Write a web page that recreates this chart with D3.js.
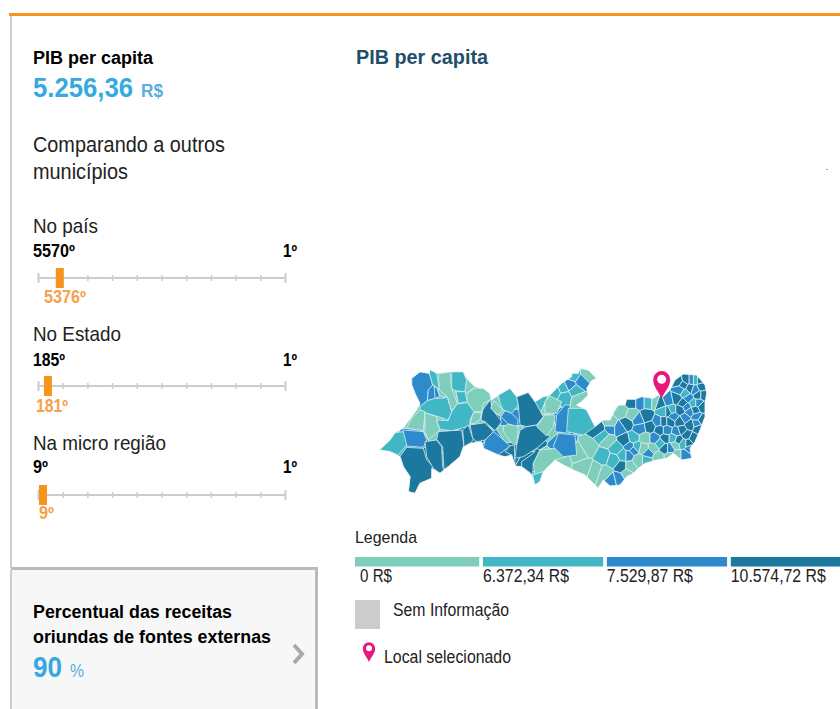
<!DOCTYPE html>
<html>
<head>
<meta charset="utf-8">
<script src="https://cdn.jsdelivr.net/npm/d3@7"></script>
<style>
	html, body { margin: 0; padding: 0; background: #fff; }
	svg { display: block; }
	text { font-family: "Liberation Sans", Arial, sans-serif; }
</style>
</head>
<body>
<div id="chart"></div>
<script>
var legendLabels = [ "0 R$", "6.372,34 R$", "7.529,87 R$", "10.574,72 R$" ];
var legendWidths = [ 32, 86, 86, 95 ];
var classColors = [ "#7fcdbb", "#41b6c4", "#2e8bcb", "#1c789e" ];

var gaugeNames = [ "No país", "No Estado", "Na micro região" ];
var gaugeNameWidths = [ 65, 88, 133 ];
var gaugeWorst = [ "5570º", "185º", "9º" ];
var gaugeWorstWidths = [ 42, 32, 15 ];
var gaugeBest = [ "1º", "1º", "1º" ];
var gaugeRank = [ "5376º", "181º", "9º" ];
var gaugeRankWidths = [ 42, 32, 15 ];
// where the marker sits along the track
var gaugeShare = [ 0.072, 0.024, 0.004 ];

// map digitised on a 3x grid of the picture: [x, y]
var outlineWest = [
	[28,270],[60,240],[75,218],[100,205],[110,190],[140,150],[150,130],[135,100],[125,75],[125,55],[150,35],[178,40],
	[180,28],[200,40],[240,35],[280,35],[295,60],[315,80],[340,85],[360,100],[365,120],[385,105],[420,85],[440,110],
	[475,97],[495,125],[520,110]
];
var outlineEast = [
	[60,105],[80,85],[95,70],[110,60],[125,50],[125,40],[145,40],[150,25],[175,30],[200,55],[185,62],[170,85],[175,105],
	[155,125],[140,135],[170,150],[185,180],[195,200],[220,180],[240,180],[255,150],[265,135],[285,135],[290,118],[315,118],
	[335,110],[370,115],[385,105],[400,110],[420,90],[435,60],[460,42],[500,45],[525,75],[530,100],[525,130],[525,170],
	[510,210],[495,245],[480,265],[485,295],[455,300],[430,280],[410,295],[380,300],[345,310],[325,325],[310,340],[290,350],
	[270,375],[240,378],[220,360],[205,385],[180,360],[165,345],[130,330],[100,315],[75,300],[40,335],[30,365],[15,375]
];
var outlineSouth = [
	[485,345],[455,320],[435,318],[425,285],[405,290],[385,285],[340,265],[335,245],[300,250],[280,262],[270,290],[235,320],
	[210,340],[185,325],[185,355],[150,370],[135,400],[115,395],[120,350],[100,320],[90,290],[60,275]
];

// small municipalities of the east: [x, y, legend class], cells grown around these
var municipiosWest = [
	[150,85,2],[190,60,1],[183,100,2],[225,85,0],[265,65,1],[305,70,0],[272,110,1],[205,135,1],[325,120,0],[250,115,0],
	[140,185,0],[185,200,0],[260,175,1],[320,175,0],[365,170,3],[380,145,0],[415,125,1],[420,175,2],[480,140,3],[420,220,0],
	[135,232,2],[70,260,1],[135,320,3],[195,290,3],[240,265,3],[290,230,3],[330,215,3],[375,250,2],[420,275,3],[480,240,3],
	[480,310,3],[520,310,0],[498,360,1]
];
var municipiosEast = [
	[130,48,1],[175,45,0],[155,65,2],[120,75,2],[100,85,1],[75,95,1],[105,110,1],[135,92,1],[145,118,0],[30,122,1],
	[60,135,0],[50,195,0],[95,175,2],[150,180,1],[105,255,2],[40,310,0],[90,300,0],[150,280,0],[175,265,0],[195,330,0],
	[165,320,0],[220,225,1],[220,290,1],[240,205,2],[208,208,3],[235,240,0],[245,360,2],[225,340,0],[265,355,2],[290,340,0],
	[275,320,3],[300,320,0],[250,300,1],[260,265,1],[285,240,3],[290,190,3],[268,205,2],[240,190,0],[275,155,0],[305,165,0],
	[305,125,3],[330,125,2],[355,125,1],[375,125,0],[390,130,3],[350,170,3],[385,185,2],[330,205,2],[360,200,3],[345,235,0],
	[310,235,1],[310,270,2],[340,265,0],[370,265,0],[405,265,3],[405,235,3],[325,300,0],[295,285,2],[350,300,1],[385,290,0],
	[435,255,0],[440,215,2],[420,185,3],[400,155,1],[425,150,1],[450,150,3],[415,120,2],[440,115,3],[450,90,2],[445,65,3],
	[470,60,3],[495,60,1],[515,80,3],[480,85,3],[505,105,3],[475,115,2],[490,130,1],[515,140,3],[480,155,2],[500,170,2],
	[465,175,2],[515,180,3],[450,185,3],[480,195,3],[505,205,3],[470,225,3],[490,235,3],[460,250,1],[480,265,2],[465,285,2],
	[440,285,0],[420,290,0],[410,210,2],
	[460,75,3],[485,60,2],[510,60,3],[465,100,1],[495,90,2],[520,105,3],[460,130,3],[505,130,2],[470,140,2],[430,170,2],
	[495,150,3],[455,210,3],[500,190,2],[430,235,1],[420,265,2],[445,240,3],[475,250,3],[390,210,3],[375,235,2],[390,250,1],
	[325,180,2],[320,260,1],[280,285,1],[300,260,2],[355,280,2],[400,185,3],[415,155,3]
];

// large municipalities, traced: legend class, then the boundary
var municipiosGrandes = [
	[2, [[125,55],[150,35],[178,40],[188,75],[175,90],[172,122],[150,140],[135,100],[125,75]]],
	[1, [[178,40],[180,28],[200,40],[208,90],[192,75],[188,75]]],
	[2, [[188,75],[192,75],[195,115],[172,122],[175,90]]],
	[0, [[205,42],[240,35],[245,85],[262,130],[245,155],[232,110],[208,90]]],
	[1, [[245,35],[280,35],[290,60],[285,95],[255,92],[245,85]]],
	[0, [[280,35],[295,60],[315,80],[290,100],[285,95],[290,60]]],
	[1, [[258,95],[285,95],[292,125],[265,130]]],
	[1, [[172,122],[195,115],[215,115],[232,112],[245,155],[235,180],[205,170],[170,160],[150,150],[150,140]]],
	[0, [[315,85],[340,85],[360,100],[362,118],[340,130],[335,155],[310,155],[292,125],[290,100]]],
	[0, [[150,150],[165,155],[160,212],[110,205],[125,175]]],
	[0, [[165,158],[200,170],[200,185],[210,210],[175,240],[165,215]]],
	[1, [[262,132],[292,128],[312,155],[300,180],[300,195],[275,205],[245,212],[210,208],[200,180],[235,182],[245,155]]],
	[0, [[310,158],[335,158],[330,180],[312,190],[300,190]]],
	[3, [[362,118],[365,145],[395,185],[375,212],[345,185],[333,180],[338,150]]],
	[0, [[372,122],[398,150],[385,165],[362,145]]],
	[1, [[385,105],[420,85],[440,110],[445,135],[425,160],[400,150],[390,130]]],
	[2, [[405,152],[425,160],[445,180],[440,200],[415,192],[393,170]]],
	[3, [[440,110],[475,97],[495,125],[520,170],[500,195],[470,200],[450,195],[445,135]]],
	[0, [[400,200],[415,192],[445,200],[440,255],[425,250],[400,215]]],
	[2, [[100,210],[160,215],[170,240],[160,262],[110,258],[100,240]]],
	[1, [[28,270],[60,240],[75,218],[100,215],[110,255],[85,285],[60,275]]],
	[3, [[110,262],[160,265],[170,300],[190,320],[185,355],[150,370],[135,400],[115,395],[120,350],[100,320],[90,290]]],
	[3, [[165,245],[200,240],[215,260],[218,320],[222,330],[210,340],[190,325],[170,290]]],
	[3, [[205,215],[245,212],[275,210],[282,255],[270,290],[235,320],[222,328],[218,260],[200,238]]],
	[3, [[278,210],[295,195],[310,240],[300,250],[282,260]]],
	[3, [[300,195],[345,188],[370,215],[345,240],[320,245],[308,235]]],
	[2, [[370,215],[395,235],[420,258],[385,285],[340,265],[345,240]]],
	[3, [[420,258],[433,255],[435,318],[425,285],[405,275]]],
	[3, [[450,210],[470,200],[500,195],[540,230],[500,265],[460,290],[435,295],[440,255]]],
	[3, [[500,265],[510,270],[490,310],[488,345],[470,330],[455,320],[455,305],[490,280]]],
	[0, [[510,270],[560,265],[590,290],[555,300],[520,335],[495,345],[490,310]]],
	[1, [[488,345],[520,335],[510,365],[495,375]]],
	[2, [[565,220],[615,225],[620,285],[580,290],[550,260]]],
	[0, [[525,165],[555,165],[550,200],[530,228],[500,200]]],
	[0, [[540,108],[575,125],[560,160],[525,160],[525,125]]],
	[2, [[585,135],[600,135],[600,220],[555,215],[560,165]]],
	[1, [[595,145],[650,145],[675,200],[640,225],[590,215]]]
];
var selectedPlace = [ 395, 115 ];

var eastShift = 480;

var svg = d3.select("#chart").append("svg").attr("width", 840).attr("height", 709);

var mapX = d3.scaleLinear().domain([0, 1080]).range([370, 730]);
var mapY = d3.scaleLinear().domain([0, 420]).range([360, 500]);
var color = d3.scaleOrdinal().domain([0, 1, 2, 3]).range(classColors);

function addText(g, str, x, y, size, fill, bold, width, anchor) {
	var t = g.append("text")
		.attr("x", x)
		.attr("y", y)
		.attr("font-size", size)
		.attr("fill", fill)
		.attr("font-weight", bold ? "bold" : "normal")
		.attr("text-anchor", anchor || "start")
		.text(str);
	if(width) t.attr("textLength", width).attr("lengthAdjust", "spacingAndGlyphs");
	return t;
}

function pinPath(size) {
	// tip at 0,0, head above it
	var r = size * 0.47, c = size * 1.05;
	return "M0,0 C" + (-r * 0.4) + "," + (-c * 0.4) + " " + (-r) + "," + (-c * 0.6) + " " + (-r) + "," + (-c)
		+ " A" + r + "," + r + " 0 1 1 " + r + "," + (-c)
		+ " C" + r + "," + (-c * 0.6) + " " + (r * 0.4) + "," + (-c * 0.4) + " 0,0 Z";
}

// frame
svg.append("rect").attr("x", 10).attr("y", 16).attr("width", 2).attr("height", 552).attr("fill", "#ccc");
svg.append("rect").attr("x", 9).attr("y", 13).attr("width", 831).attr("height", 3).attr("fill", "#f7941e");

var left = svg.append("g");
addText(left, "PIB per capita", 33, 64, 18, "#000", true, 120);
addText(left, "5.256,36", 33, 97, 27.5, "#36a9e1", true, 100);
addText(left, "R$", 141, 97, 19, "#5aaede", true, 22);
addText(left, "Comparando a outros", 33, 152, 21.5, "#222", false, 192);
addText(left, "municípios", 33, 179, 21.5, "#222", false, 95);

// rank gauges
var trackX = d3.scaleLinear().domain([0, 1]).range([38, 285]);
var gaugeTop = [ 233, 341, 450 ];
var gaugeTrack = [ 278, 386, 495 ];
var gaugeWorstY = [ 257, 366, 473 ];
var gaugeRankX = [ 44, 36, 39 ];
var gaugeRankY = [ 303, 412, 519 ];

gaugeNames.forEach(function(name, i) {
	var g = svg.append("g");
	addText(g, name, 33, gaugeTop[i], 21, "#222", false, gaugeNameWidths[i]);
	addText(g, gaugeWorst[i], 33, gaugeWorstY[i], 18, "#000", true, gaugeWorstWidths[i]);
	addText(g, gaugeBest[i], 283, gaugeWorstY[i], 18, "#000", true, 14);

	var axis = g.append("g")
		.attr("transform", "translate(0," + gaugeTrack[i] + ")")
		.call(d3.axisBottom(trackX).ticks(10).tickSize(6).tickFormat(""));
	axis.select(".domain").attr("stroke", "#ccc").attr("stroke-width", 2).attr("d", "M38,0H285");
	axis.selectAll(".tick line")
		.attr("stroke", "#ccc")
		.attr("stroke-width", function(d, j) { return (j == 0 || j == 10) ? 2 : 1.5; })
		.attr("y1", function(d, j) { return (j == 0 || j == 10) ? -5 : -3; })
		.attr("y2", function(d, j) { return (j == 0 || j == 10) ? 5 : 3; });

	g.append("rect")
		.attr("x", trackX(gaugeShare[i]))
		.attr("y", gaugeTrack[i] - 10)
		.attr("width", 8)
		.attr("height", 20)
		.attr("fill", "#f7941e");
	addText(g, gaugeRank[i], gaugeRankX[i], gaugeRankY[i], 18, "#f7a04b", true, gaugeRankWidths[i]);
});

// next indicator card
var card = svg.append("g");
card.append("rect").attr("x", 10).attr("y", 568).attr("width", 307).attr("height", 141)
	.attr("fill", "#f7f7f7");
card.append("path").attr("d", "M11,568.5H316.5V709").attr("fill", "none").attr("stroke", "#bbb").attr("stroke-width", 3);
card.append("rect").attr("x", 10).attr("y", 570).attr("width", 2).attr("height", 139).attr("fill", "#ccc");
addText(card, "Percentual das receitas", 33, 618, 18, "#000", true, 199);
addText(card, "oriundas de fontes externas", 33, 643, 18, "#000", true, 238);
addText(card, "90", 33, 677, 29, "#36a9e1", true, 29);
addText(card, "%", 70, 677, 18, "#5aaede", false, 14);
card.append("path").attr("d", "M294,645L302,654L294,663").attr("fill", "none").attr("stroke", "#aaa").attr("stroke-width", 4);

// map
addText(svg, "PIB per capita", 356, 64, 20, "#1f4e69", true, 132);

var outline = outlineWest
	.concat(outlineEast.map(function(d) { return [d[0] + eastShift, d[1]]; }))
	.concat(outlineSouth);
var municipios = municipiosWest
	.concat(municipiosEast.map(function(d) { return [d[0] + eastShift, d[1], d[2]]; }));

var line = d3.line().x(function(d) { return mapX(d[0]); }).y(function(d) { return mapY(d[1]); }).curve(d3.curveLinearClosed);

svg.append("clipPath").attr("id", "state").append("path").attr("d", line(outline));

var delaunay = d3.Delaunay.from(municipios, function(d) { return mapX(d[0]); }, function(d) { return mapY(d[1]); });
var voronoi = delaunay.voronoi([360, 350, 730, 510]);

var mapG = svg.append("g").attr("clip-path", "url(#state)");

mapG.selectAll(".cell")
	.data(municipios)
	.enter().append("path")
	.attr("class", "cell")
	.attr("d", function(d, i) { return voronoi.renderCell(i); })
	.attr("fill", function(d) { return color(d[2]); })
	.attr("stroke", "#d5eef2")
	.attr("stroke-width", 0.8);

mapG.selectAll(".grande")
	.data(municipiosGrandes)
	.enter().append("path")
	.attr("class", "grande")
	.attr("d", function(d) { return line(d[1]); })
	.attr("fill", function(d) { return color(d[0]); })
	.attr("stroke", "#d5eef2")
	.attr("stroke-width", 0.8);

svg.append("path").attr("d", line(outline)).attr("fill", "none").attr("stroke", "#fff").attr("stroke-width", 0.8);

svg.append("path")
	.attr("transform", "translate(" + mapX(selectedPlace[0] + eastShift) + "," + mapY(selectedPlace[1]) + ")")
	.attr("d", pinPath(18))
	.attr("fill", "#e8177b");
svg.append("circle")
	.attr("cx", mapX(selectedPlace[0] + eastShift))
	.attr("cy", mapY(selectedPlace[1]) - 19)
	.attr("r", 4.5)
	.attr("fill", "#fff");

svg.append("rect").attr("x", 826).attr("y", 169).attr("width", 2).attr("height", 1).attr("fill", "#aaa");

// legend
var legend = svg.append("g");
addText(legend, "Legenda", 355, 543, 17, "#222", false, 62);
var band = d3.scaleBand().domain(legendLabels).range([359, 851]).paddingInner(0.03);
legendLabels.forEach(function(label, i) {
	legend.append("rect")
		.attr("x", i == 0 ? band(label) - 4 : band(label))
		.attr("y", 557)
		.attr("width", i == 0 ? band.bandwidth() + 4 : band.bandwidth())
		.attr("height", 9.5)
		.attr("fill", classColors[i]);
	addText(legend, label, i == 0 ? band(label) + 1 : band(label), 582, 17.5, "#222", false, legendWidths[i]);
});
legend.append("rect").attr("x", 355).attr("y", 600).attr("width", 25).attr("height", 29).attr("fill", "#ccc");
addText(legend, "Sem Informação", 393, 616, 17.5, "#222", false, 116);
legend.append("path").attr("transform", "translate(369,662)").attr("d", pinPath(13)).attr("fill", "#e8177b");
legend.append("circle").attr("cx", 369).attr("cy", 648.3).attr("r", 3).attr("fill", "#fff");
addText(legend, "Local selecionado", 384, 663, 17.5, "#222", false, 127);
</script>
</body>
</html>
